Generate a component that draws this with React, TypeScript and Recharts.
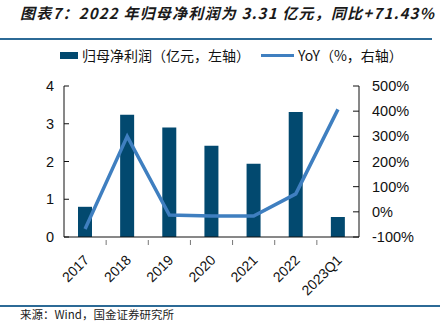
import React from 'react';
import { ComposedChart, Bar, Line, XAxis, YAxis } from 'recharts';

const categories = ['2017', '2018', '2019', '2020', '2021', '2022', '2023Q1'];
const profit = [0.8, 3.24, 2.9, 2.42, 1.94, 3.31, 0.53];
const yoy = [-68, 300, -13, -17, -17, 71.43, 407];
const leftTicks = [0, 1, 2, 3, 4];
const rightTicks = [-100, 0, 100, 200, 300, 400, 500];

const data = categories.map((c, i) => ({ name: c, profit: profit[i], yoy: yoy[i] }));

const BAR_COLOR = '#02496f';
const LINE_COLOR = '#3f7fc0';
const FONT = "'Liberation Sans', Arial, sans-serif";
const CJK = "'Noto Sans CJK SC', 'Liberation Sans', sans-serif";

const PLOT_LEFT = 64;
const PLOT_RIGHT = 359;
const BAND = (PLOT_RIGHT - PLOT_LEFT) / categories.length;

const XTick = (props: any) => {
  const { x, y, payload, index } = props;
  const tx = x - 2;
  const ty = y + 9;
  return (
    <g>
      {index < categories.length - 1 && (
        <line x1={x + BAND / 2} x2={x + BAND / 2} y1={y} y2={y - 5} stroke="#777" strokeWidth={1} />
      )}
      <text
        x={tx}
        y={ty}
        textAnchor="end"
        fontSize={14}
        fontFamily={FONT}
        fill="#111"
        transform={`rotate(-45 ${tx} ${ty})`}
        dy="0.7em"
      >
        {payload.value}
      </text>
    </g>
  );
};

export default function App() {
  return (
    <div style={{ position: 'absolute', left: 0, top: 0, width: 448, height: 321, background: '#fff', overflow: 'hidden' }}>
      <div
        style={{
          position: 'absolute',
          left: 20,
          top: 2,
          fontFamily: CJK,
          fontStyle: 'italic',
          fontWeight: 'bold',
          fontSize: 15,
          letterSpacing: 1.2,
          color: '#1a1a1a',
          whiteSpace: 'nowrap',
          lineHeight: '22px',
        }}
      >
        图表7：2022 年归母净利润为 3.31 亿元，同比+71.43%
      </div>
      <div style={{ position: 'absolute', left: 0, top: 38, width: 432, height: 2, background: '#2c6a96' }} />

      <div style={{ position: 'absolute', left: 60, top: 45, height: 20, display: 'flex', alignItems: 'center', fontFamily: CJK, fontSize: 14, color: '#111', whiteSpace: 'nowrap' }}>
        <div style={{ width: 18, height: 7, background: BAR_COLOR, marginRight: 4 }} />
        <span>归母净利润（亿元，左轴）</span>
        <div style={{ width: 33, height: 3, background: LINE_COLOR, marginLeft: 11, marginRight: 4 }} />
        <span>YoY（%，右轴）</span>
      </div>

      <div style={{ position: 'absolute', left: 0, top: 0 }}>
        <ComposedChart width={448} height={321} data={data} margin={{ top: 86, right: 0, bottom: 34, left: 0 }}>
          <XAxis
            dataKey="name"
            height={50}
            interval={0}
            tick={<XTick />}
            tickLine={false}
            axisLine={{ stroke: '#111', strokeWidth: 1 }}
          />
          <YAxis
            yAxisId="left"
            orientation="left"
            width={64}
            domain={[0, 4]}
            ticks={leftTicks}
            tickSize={-5}
            tickMargin={15}
            tickLine={{ stroke: '#111' }}
            axisLine={{ stroke: '#111', strokeWidth: 1 }}
            tick={{ fontSize: 14.5, fontFamily: FONT, fill: '#111' }}
            allowDataOverflow
          />
          <YAxis
            yAxisId="right"
            orientation="right"
            width={89}
            domain={[-100, 500]}
            ticks={rightTicks}
            tickFormatter={(v: number) => `${v}%`}
            tickSize={-6}
            tickMargin={19}
            tickLine={{ stroke: '#111' }}
            axisLine={{ stroke: '#111', strokeWidth: 1 }}
            tick={{ fontSize: 14.5, fontFamily: FONT, fill: '#111', textAnchor: 'start' }}
            allowDataOverflow
          />
          <Bar yAxisId="left" dataKey="profit" fill={BAR_COLOR} barSize={14} isAnimationActive={false} />
          <Line
            yAxisId="right"
            dataKey="yoy"
            stroke={LINE_COLOR}
            strokeWidth={3.5}
            dot={false}
            activeDot={false}
            type="linear"
            isAnimationActive={false}
          />
        </ComposedChart>
      </div>

      <div style={{ position: 'absolute', left: 0, top: 305, width: 440, height: 1.5, background: '#2c6a96' }} />
      <div style={{ position: 'absolute', left: 20, top: 307, fontFamily: CJK, fontSize: 11.5, lineHeight: '14px', color: '#222', whiteSpace: 'nowrap' }}>
        来源：Wind，国金证券研究所
      </div>
    </div>
  );
}
